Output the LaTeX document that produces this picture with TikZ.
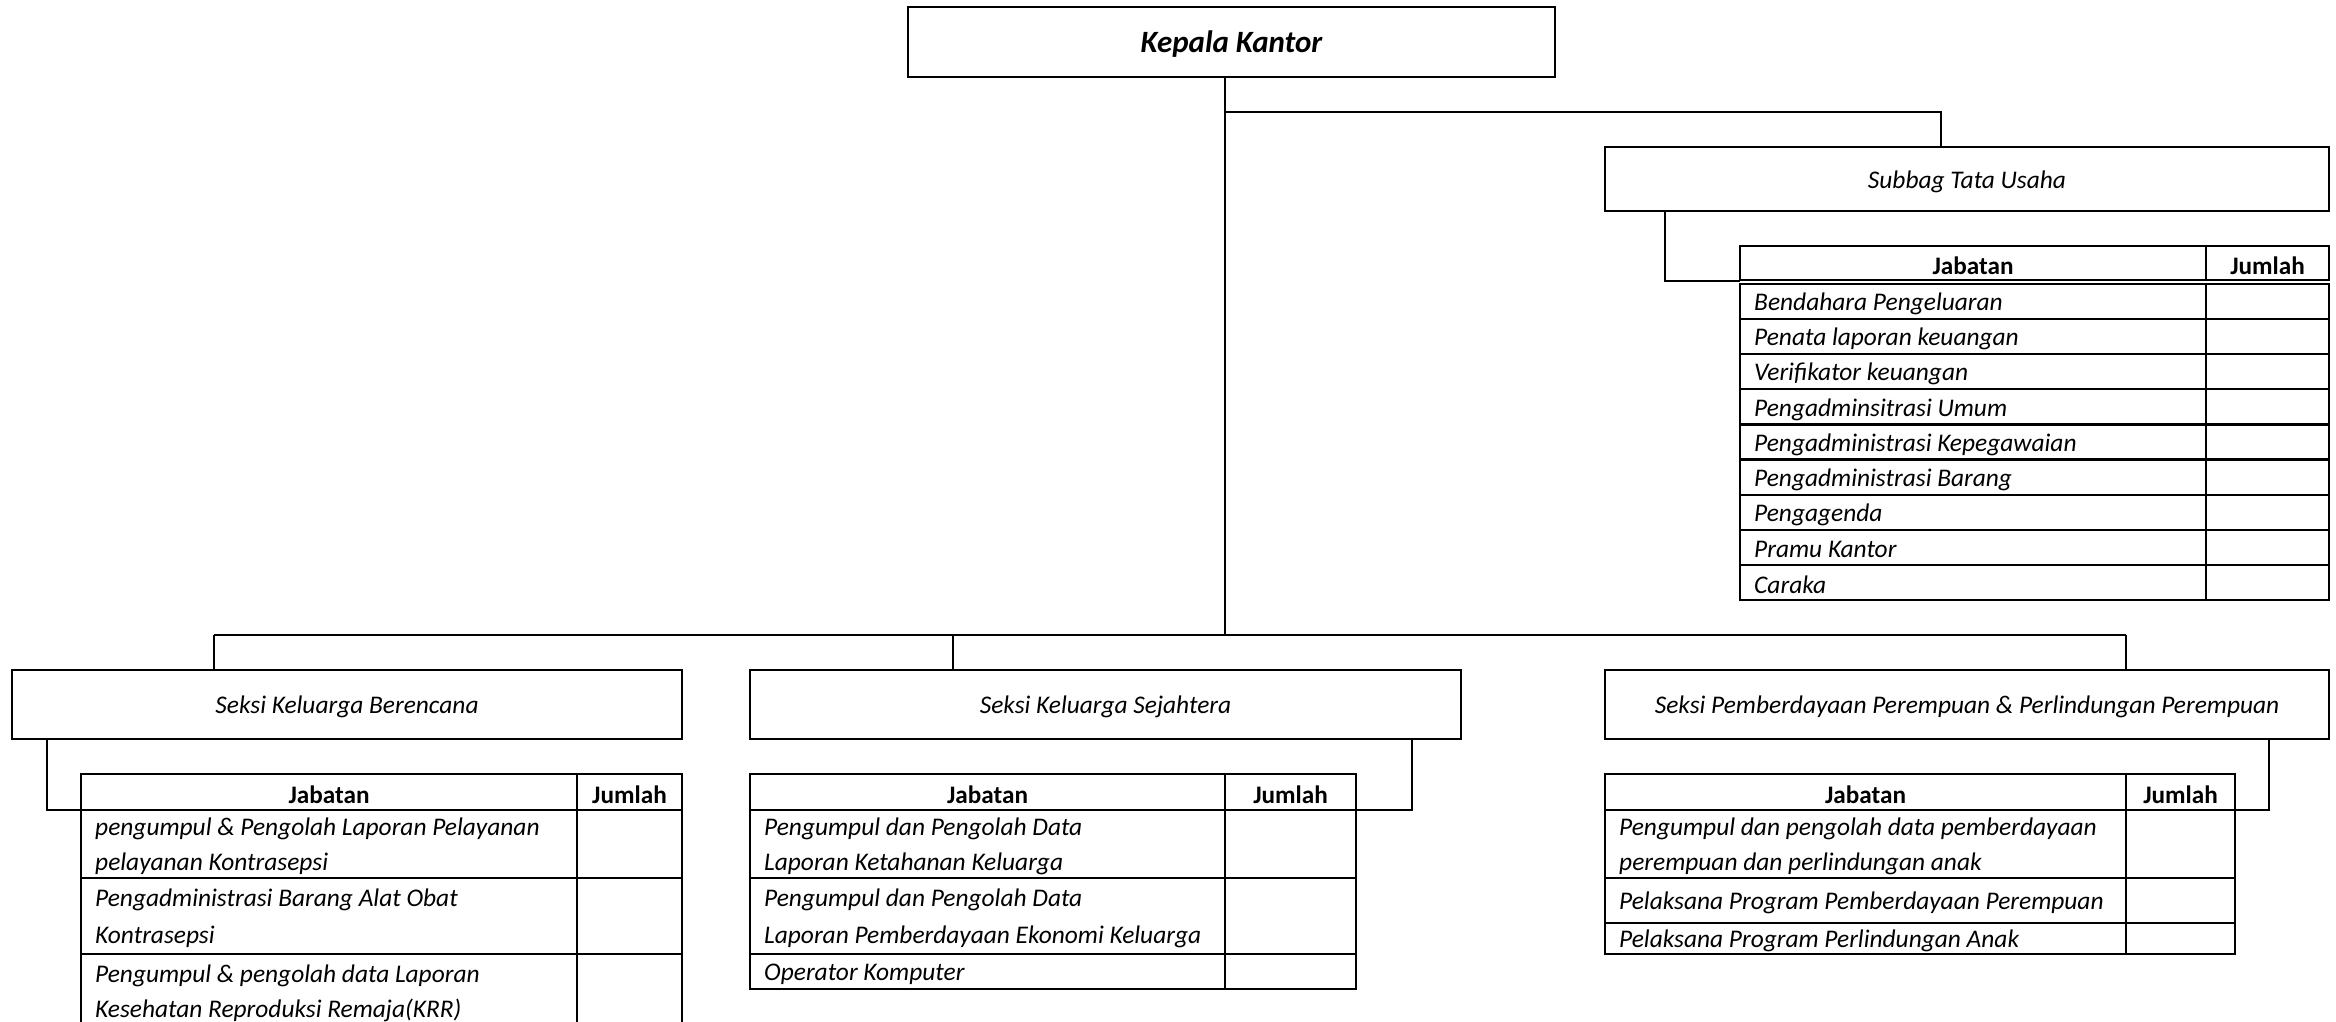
\documentclass[tikz,border=0pt]{standalone}
\usepackage{fontspec}
\setmainfont{Carlito}
\usetikzlibrary{calc}
\newcommand{\mylow}[1]{\raisebox{-2.5pt}[\height][\depth]{#1}}
\newcommand{\mytrow}[7]{%
  \node[cell, minimum width=#4pt, minimum height=#6pt] (#1a) at (#2,#3) {};
  \node[cell, minimum width=#5pt, minimum height=#6pt] (#1b) at (#1a.north east) {};
  \node[celltext] (#1t) at ([xshift=14pt,yshift=-2.5pt]#1a.west) {#7};
}
\newcommand{\myhead}[6]{%
  \node[cell, minimum width=#4pt, minimum height=#6pt, font=\fontsize{25.2}{30}\selectfont\bfseries] (#1a) at (#2,#3) {\mylow{Jabatan}};
  \node[cell, minimum width=#5pt, minimum height=#6pt, font=\fontsize{25.2}{30}\selectfont\bfseries] (#1b) at (#1a.north east) {\mylow{Jumlah}};
}
\begin{document}
\begin{tikzpicture}[x=1pt,y=-1pt,
  orgbox/.style={draw, line width=2.4pt, inner sep=0pt, outer sep=0pt, anchor=north west,
    font=\fontsize{25.4}{30}\selectfont\itshape},
  cell/.style={draw, line width=2.2pt, inner sep=0pt, outer sep=0pt, anchor=north west},
  celltext/.style={anchor=west, inner sep=0pt, align=left,
    font=\fontsize{25.4}{35}\selectfont\itshape},
  conn/.style={line width=2.2pt}]
\useasboundingbox (0,0) rectangle (2336,1021);
\clip (0,0) rectangle (2336,1021);
\fill[white] (0,0) rectangle (2336,1021);

% boxes
\node[orgbox, minimum width=647pt, minimum height=70pt,
  font=\fontsize{31}{36}\selectfont\bfseries\itshape] (kk) at (908,7) {\mylow{Kepala Kantor}};
\node[orgbox, minimum width=724pt, minimum height=64pt] (tu) at (1605,147) {\mylow{Subbag Tata Usaha}};
\node[orgbox, minimum width=670pt, minimum height=69pt] (kb) at (12,670) {\mylow{Seksi Keluarga Berencana}};
\node[orgbox, minimum width=711pt, minimum height=69pt] (ks) at (750,670) {\mylow{Seksi Keluarga Sejahtera}};
\node[orgbox, minimum width=724pt, minimum height=69pt] (pp) at (1605,670) {\mylow{Seksi Pemberdayaan Perempuan \& Perlindungan Perempuan}};

% Subbag table
\myhead{tuh}{1740}{246}{466}{123}{34}
\mytrow{tu1}{1740}{284}{466}{123}{35.1}{Bendahara Pengeluaran}
\mytrow{tu2}{1740}{319.1}{466}{123}{35.1}{Penata laporan keuangan}
\mytrow{tu3}{1740}{354.2}{466}{123}{35.1}{Verifikator keuangan}
\mytrow{tu4}{1740}{389.3}{466}{123}{35.1}{Pengadminsitrasi Umum}
\mytrow{tu5}{1740}{424.4}{466}{123}{35.1}{Pengadministrasi Kepegawaian}
\mytrow{tu6}{1740}{459.5}{466}{123}{35.1}{Pengadministrasi Barang}
\mytrow{tu7}{1740}{494.6}{466}{123}{35.1}{Pengagenda}
\mytrow{tu8}{1740}{529.7}{466}{123}{35.1}{Pramu Kantor}
\mytrow{tu9}{1740}{564.8}{466}{123}{35.2}{Caraka}

% KB table
\myhead{kbh}{81}{774}{496}{105}{36}
\mytrow{kb1}{81}{810}{496}{105}{68}{pengumpul \& Pengolah Laporan Pelayanan\\pelayanan Kontrasepsi}
\mytrow{kb2}{81}{878}{496}{105}{76}{Pengadministrasi Barang Alat Obat\\[2pt]Kontrasepsi}
\mytrow{kb3}{81}{954}{496}{105}{74}{Pengumpul \& pengolah data Laporan\\Kesehatan Reproduksi Remaja(KRR)}

% KS table
\myhead{ksh}{750}{774}{475}{131}{36}
\mytrow{ks1}{750}{810}{475}{131}{68}{Pengumpul dan Pengolah Data\\Laporan Ketahanan Keluarga}
\mytrow{ks2}{750}{878}{475}{131}{76}{Pengumpul dan Pengolah Data\\[2pt]Laporan Pemberdayaan Ekonomi Keluarga}
\mytrow{ks3}{750}{954}{475}{131}{35}{Operator Komputer}

% PP table
\myhead{pph}{1605}{774}{521}{109}{36}
\mytrow{pp1}{1605}{810}{521}{109}{68}{Pengumpul dan pengolah data pemberdayaan\\perempuan dan perlindungan anak}
\mytrow{pp2}{1605}{878}{521}{109}{45}{Pelaksana Program Pemberdayaan Perempuan}
\mytrow{pp3}{1605}{923}{521}{109}{31}{Pelaksana Program Perlindungan Anak}

% connectors
\coordinate (trunk) at (1225,635);
\coordinate (tuj) at (1941,112);
\coordinate (kbj) at (214,635);
\coordinate (ksj) at (953,635);
\coordinate (ppj) at (2126,635);
\coordinate (tus) at (1665,0);
\coordinate (kbs) at (47,0);
\coordinate (kss) at (1412,0);
\coordinate (pps) at (2269,0);

\draw[conn] (kk.south -| trunk) -- (trunk);
\draw[conn] (trunk |- tuj) -- (tuj) -- (tu.north -| tuj);
\draw[conn] (kbj) -- (ppj);
\draw[conn] (kbj) -- (kb.north -| kbj);
\draw[conn] (ksj) -- (ks.north -| ksj);
\draw[conn] (ppj) -- (pp.north -| ppj);
\draw[conn] (tu.south -| tus) |- ([yshift=-1pt]tuha.south west);
\draw[conn] (kb.south -| kbs) |- (kbha.south west);
\draw[conn] (ks.south -| kss) |- (kshb.south east);
\draw[conn] (pp.south -| pps) |- (pphb.south east);
\end{tikzpicture}
\end{document}
